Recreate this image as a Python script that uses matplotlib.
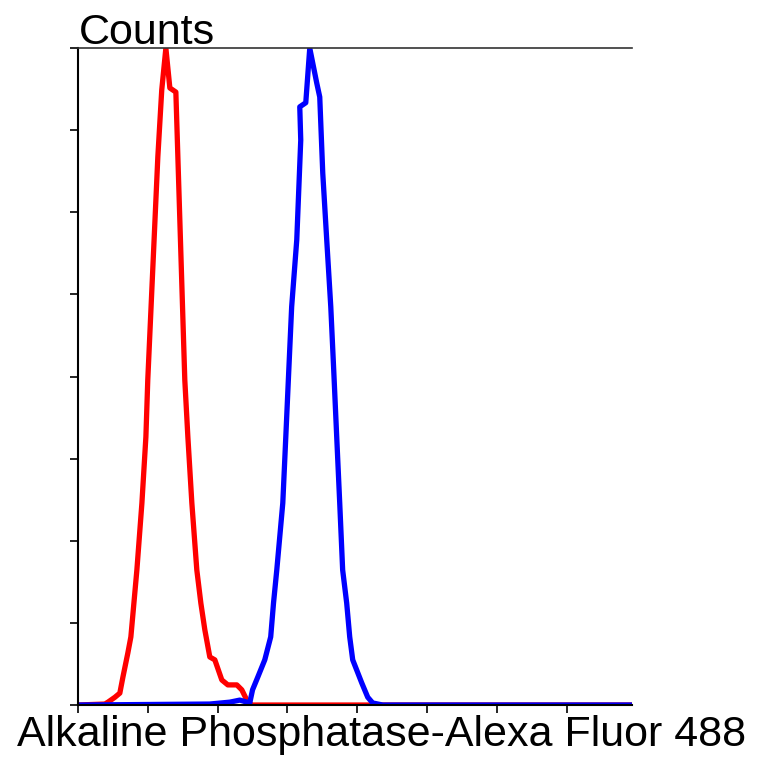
import matplotlib.pyplot as plt

# isotype control (red) and antibody stained (blue) histograms
red_x = [0.0, 0.386, 0.43, 0.53, 0.60, 0.644, 0.715, 0.758, 0.844, 0.916, 0.973, 1.0,
         1.144, 1.20, 1.259, 1.316, 1.402, 1.53, 1.574, 1.631, 1.702, 1.76, 1.817,
         1.888, 1.96, 2.06, 2.146, 2.275, 2.346, 2.418, 2.49, 7.93]
red_y = [0, 0.24, 0.7, 1.9, 2.9, 6.8, 12.7, 16.6, 32.9, 49.2, 65.3, 79.2,
         133.5, 149.8, 160, 150.3, 149.3, 79.2, 65.3, 49.2, 32.9, 24.8, 18.3,
         11.7, 11.0, 6.1, 4.9, 4.9, 3.7, 1.2, 0, 0]

blue_x = [0.0, 1.888, 2.175, 2.318, 2.46, 2.50, 2.575, 2.675, 2.76, 2.80, 2.847, 2.933,
          2.976, 3.019, 3.06, 3.133, 3.19, 3.176, 3.262, 3.319, 3.419, 3.462, 3.505,
          3.562, 3.62, 3.662, 3.705, 3.748, 3.79, 3.848, 3.891, 3.934, 4.063, 4.149,
          4.22, 4.363, 7.93]
blue_y = [0, 0.24, 0.7, 1.2, 0.5, 3.7, 6.8, 11.0, 16.6, 24.8, 32.9, 49.2,
          65.3, 81.6, 97.0, 113.3, 137.6, 145.7, 146.7, 160, 151.5, 148.1, 129.6,
          113.3, 97.0, 81.6, 65.3, 49.2, 32.9, 24.8, 16.6, 11.0, 5.4, 1.9,
          0.5, 0, 0]

x_ticks = list(range(8))
y_ticks = list(range(0, 161, 20))

plt.rcParams['font.family'] = ['Liberation Sans', 'DejaVu Sans']

fig = plt.figure(figsize=(7.64, 7.64), dpi=100)
ax = fig.add_axes([0.102, 0.0772, 0.725, 0.8598])

ax.plot(red_x, red_y, color='#ff0000', lw=3.8, solid_joinstyle='round')
ax.plot(blue_x, blue_y, color='#0000ff', lw=3.8, solid_joinstyle='round')

ax.set_xlim(0, 7.93)
ax.set_ylim(0, 160)
ax.set_xticks(x_ticks)
ax.set_yticks(y_ticks)
ax.set_xticklabels([])
ax.set_yticklabels([])
ax.tick_params(direction='out', length=6, width=1.2, color='black')

ax.spines['right'].set_visible(False)
ax.spines['top'].set_color('#333333')
ax.spines['top'].set_linewidth(1.2)
ax.spines['left'].set_linewidth(1.5)
ax.spines['bottom'].set_linewidth(1.5)

fig.text(0.103, 1 - 44 / 764, 'Counts', fontsize=31, va='baseline', ha='left')
fig.text(0.5, 1 - 746 / 764, 'Alkaline Phosphatase-Alexa Fluor 488', fontsize=31,
         va='baseline', ha='center')

fig.savefig('out.png', dpi=100)
